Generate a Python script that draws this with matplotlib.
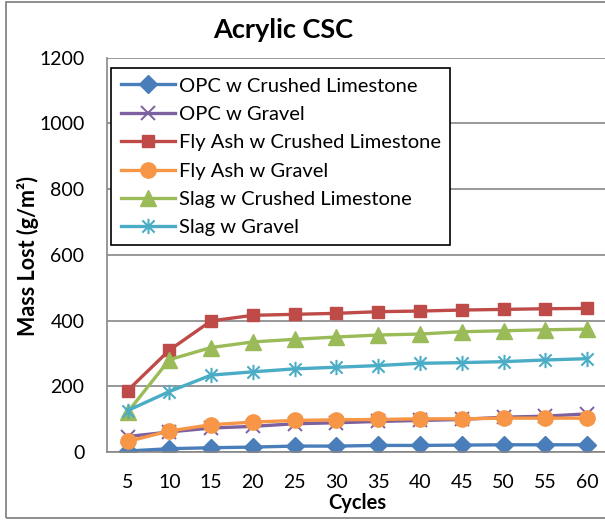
import matplotlib
matplotlib.use("Agg")
import matplotlib.pyplot as plt
from matplotlib.path import Path
from matplotlib.patches import Rectangle

plt.rcParams['font.family'] = ['Lato', 'DejaVu Sans']

cycles = [5, 10, 15, 20, 25, 30, 35, 40, 45, 50, 55, 60]
opc_limestone = [3, 10, 13, 15, 18, 18, 20, 20, 21, 22, 22, 22]
opc_gravel = [47, 61, 73, 78, 86, 89, 93, 96, 99, 106, 109, 116]
flyash_limestone = [187, 310, 399, 416, 419, 422, 427, 429, 432, 434, 436, 437]
flyash_gravel = [32, 64, 83, 91, 96, 98, 99, 101, 101, 103, 103, 103]
slag_limestone = [121, 281, 318, 335, 343, 350, 356, 359, 366, 369, 372, 374]
slag_gravel = [126, 184, 234, 244, 253, 258, 263, 270, 272, 275, 280, 284]

series_names = ["OPC w Crushed Limestone", "OPC w Gravel", "Fly Ash w Crushed Limestone",
                "Fly Ash w Gravel", "Slag w Crushed Limestone", "Slag w Gravel"]
y_ticks = [0, 200, 400, 600, 800, 1000, 1200]

# Excel-style asterisk marker: an X with a vertical stroke
star_path = Path(
    [(-1, -1), (1, 1), (-1, 1), (1, -1), (0, -1.25), (0, 1.25)],
    [Path.MOVETO, Path.LINETO, Path.MOVETO, Path.LINETO, Path.MOVETO, Path.LINETO],
)

styles = [
    dict(color="#4A7EBB", marker="D", ms=9),
    dict(color="#7D60A0", marker="x", ms=10, mew=1.4),
    dict(color="#BE4B48", marker="s", ms=9),
    dict(color="#F79646", marker="o", ms=11),
    dict(color="#9BBB59", marker="^", ms=11),
    dict(color="#4BACC6", marker=star_path, ms=11, mew=1.5),
]
data = [opc_limestone, opc_gravel, flyash_limestone, flyash_gravel, slag_limestone, slag_gravel]

fig = plt.figure(figsize=(6.05, 5.2), dpi=100)
ax = fig.add_axes([106.7 / 605, 68 / 520, (608 - 106.7) / 605, (452 - 57.7) / 520])

for name, vals, st in zip(series_names, data, styles):
    kw = dict(st)
    color = kw.pop("color")
    ax.plot(cycles, vals, color=color, lw=2.4, label=name,
            markerfacecolor=color, markeredgecolor=color, **kw)

ax.set_xlim(2.5, 62.5)
ax.set_ylim(0, 1200)
ax.set_xticks(cycles)
ax.set_xticklabels([str(c) for c in cycles])
ax.set_yticks(y_ticks)
ax.tick_params(axis='both', length=0, labelsize=14, pad=16)
ax.grid(axis='y', color="#868686", lw=1.2)
ax.set_axisbelow(True)
for side in ("top", "right"):
    ax.spines[side].set_visible(False)
for side in ("left", "bottom"):
    ax.spines[side].set_color("#868686")
    ax.spines[side].set_linewidth(1.2)

leg = ax.legend(loc="upper left", bbox_to_anchor=(0.0095, 0.973), fontsize=14.5,
                frameon=True, fancybox=False, edgecolor="black", framealpha=1,
                handlelength=2.7, handletextpad=0.2, labelspacing=0.56,
                borderpad=0.45, borderaxespad=0)
leg.get_frame().set_linewidth(1.2)

fig.text(283 / 605, 1 - 30 / 520, "Acrylic CSC", ha="center", va="center",
         fontsize=19.5, fontweight="bold")
fig.text(357 / 605, 1 - 503 / 520, "Cycles", ha="center", va="center",
         fontsize=14.5, fontweight="bold")
fig.text(28 / 605, 1 - 256 / 520, "Mass Lost (g/m²)", ha="center", va="center",
         rotation=90, fontsize=15.5, fontweight="bold")

# outer chart border
fig.patches.append(Rectangle((6 / 605, 2 / 520), 1.2, 516 / 520, transform=fig.transFigure,
                             fill=False, edgecolor="#868686", lw=1.3))

fig.savefig("out.png", dpi=100)
